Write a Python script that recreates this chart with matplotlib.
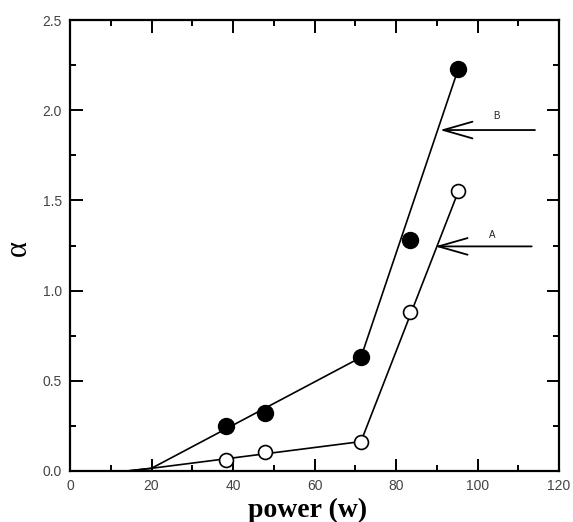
import matplotlib.pyplot as plt
from matplotlib.ticker import MultipleLocator

# measured points
power_b = [38.3, 47.8, 71.4, 83.4, 95.3]
alpha_b = [0.25, 0.32, 0.63, 1.28, 2.23]
power_a = [38.3, 47.9, 71.4, 83.4, 95.3]
alpha_a = [0.06, 0.107, 0.163, 0.88, 1.55]

# fitted guide lines
fit_x_b = [14, 20, 71.4, 95.3]
fit_y_b = [0.0, 0.015, 0.63, 2.23]
fit_x_a = [14, 20, 71.4, 95.3]
fit_y_a = [0.0, 0.015, 0.163, 1.55]

# arrows: (label, tip x, tail x, y, label x, label y)
arrows = [("B", 90.8, 114.1, 1.89, 104.7, 1.97),
          ("A", 89.6, 113.3, 1.245, 103.6, 1.31)]

fig = plt.figure(figsize=(5.73, 5.22), dpi=100)
ax = fig.add_axes([70 / 573, 51 / 522, 489 / 573, 451 / 522])

ax.plot(fit_x_b, fit_y_b, color='black', lw=1.2, zorder=2)
ax.plot(fit_x_a, fit_y_a, color='black', lw=1.2, zorder=2)
ax.plot(power_b, alpha_b, 'o', color='black', ms=11.5, zorder=3)
ax.plot(power_a, alpha_a, 'o', mfc='white', mec='black', mew=1.2, ms=10, zorder=3)

for lab, tip, tail, y, lx, ly in arrows:
    ax.annotate('', xy=(tip, y), xytext=(tail, y),
                arrowprops=dict(arrowstyle='->,head_length=2.1,head_width=0.6',
                                mutation_scale=10, shrinkA=0, shrinkB=0,
                                lw=1.3, color='black'))
    ax.text(lx, ly, lab, fontsize=7, ha='center', va='center', color='#222',
            family='Liberation Sans')

ax.set_xlim(0, 120)
ax.set_ylim(0, 2.5)
ax.xaxis.set_major_locator(MultipleLocator(20))
ax.xaxis.set_minor_locator(MultipleLocator(10))
ax.yaxis.set_major_locator(MultipleLocator(0.5))
ax.yaxis.set_minor_locator(MultipleLocator(0.25))
ax.yaxis.set_major_formatter(plt.FuncFormatter(lambda v, p: f"{v:.1f}"))

ax.tick_params(which='both', direction='in', top=True, right=True,
               width=1.4, colors='black', labelcolor='#444', labelsize=10)
ax.tick_params(which='major', length=9, pad=6)
ax.tick_params(which='minor', length=4.5)
for lbl in ax.get_xticklabels() + ax.get_yticklabels():
    lbl.set_family('Liberation Sans')
for s in ax.spines.values():
    s.set_linewidth(1.6)

ax.set_xlabel('power (w)', family='Liberation Serif', fontweight='bold',
              fontsize=20, labelpad=0)
ax.xaxis.set_label_coords(0.486, -0.06)
ax.set_ylabel('α', family='Liberation Serif', fontsize=22)
ax.yaxis.set_label_coords(-0.075, 0.495)

fig.savefig('out.png', dpi=100)
